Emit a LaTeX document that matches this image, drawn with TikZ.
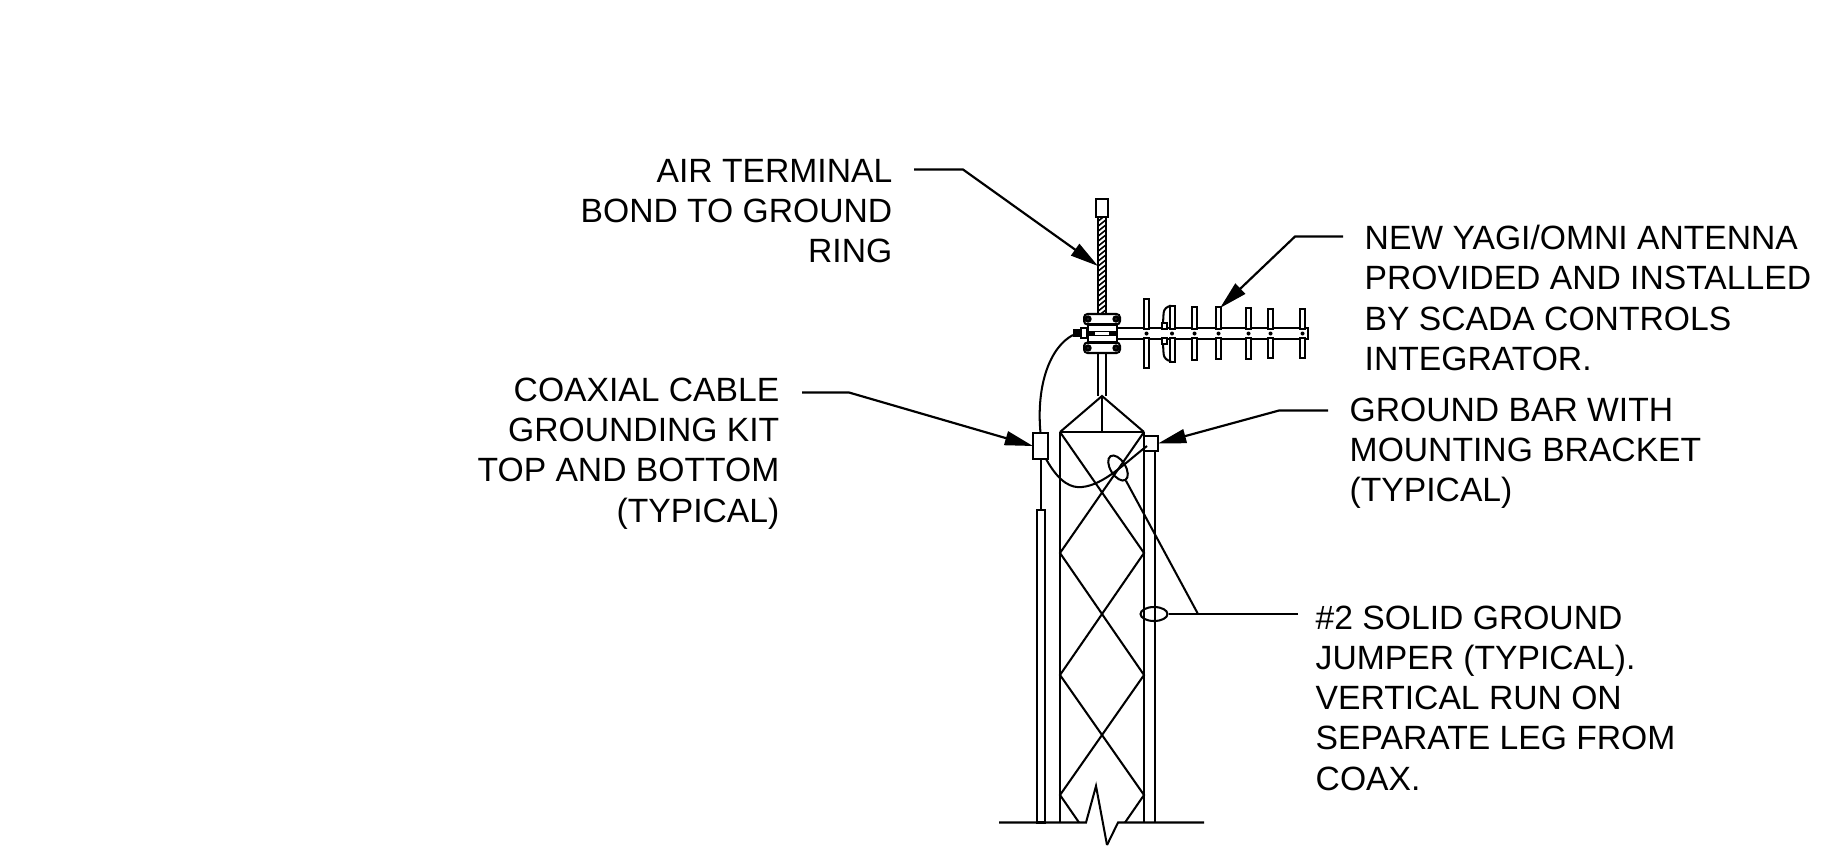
\documentclass[tikz,border=0pt]{standalone}
\usepackage{fontspec}
\setmainfont{Liberation Sans}
\usetikzlibrary{arrows.meta,shapes.geometric}
\tikzset{
  part/.style={line width=0.58pt},
  leader/.style={line width=0.62pt,-{Stealth[length=8pt,width=4pt,inset=0pt]}},
  callout/.style={font=\fontsize{9.57}{11.45}\selectfont,inner sep=0pt},
  groundbox/.style={draw,part,fill=white,inner sep=0pt,outer sep=0pt},
  jumperloop/.style={draw,part,ellipse,inner sep=0pt}
}
\newcommand{\yagielement}[4]{%
\draw[part,fill=white](#1,#2) rectangle (#1+5,329);
\draw[part,fill=white](#1,338) rectangle (#1+5,#3);
\fill(#1+2.5,333.5) circle (#4);
}
\begin{document}
\begin{tikzpicture}[x=0.01cm,y=-0.01cm]
\useasboundingbox (0,0) rectangle (1828,845);

% ground line and break
\draw[part](999,822.5)--(1086,822.5)--(1096,786)--(1107,845);
\draw[part](1107,845)--(1118,822.5)--(1204,822.5);

% tower legs
\draw[part](1060,432)--(1060,822.5);
\draw[part](1144,432)--(1144,822.5);
\draw[part](1155,451)--(1155,822.5);
\draw[part](1060,432)--(1144,432);
\draw[part](1060,432)--(1102,396)--(1144,432);
\draw[part](1102,396)--(1102,432);

% lattice
\draw[part](1060,432)--(1144,553)--(1060,675)--(1144,795)--(1125,822.5);
\draw[part](1144,432)--(1060,553)--(1144,675)--(1060,795)--(1079,822.5);

% mast
\draw[part](1098,353)--(1098,396);
\draw[part](1106,353)--(1106,396);

% air terminal
\begin{scope}
\clip(1098,217) rectangle (1106,314);
\foreach \h in {217,222,...,322}
  \draw[line width=0.45pt](1097,\h)--(1107,\h-8);
\end{scope}
\draw[part](1098,217)--(1098,314);
\draw[part](1106,217)--(1106,314);
\node[groundbox,minimum width=0.12cm,minimum height=0.18cm] (airtip) at (1102,208) {};

% boom
\draw[part,fill=white](1117,328) rectangle (1308,339);
\yagielement{1144}{299}{368}{2}
\yagielement{1169.5}{306}{362}{2}
\yagielement{1192}{307}{360}{2}
\yagielement{1216}{307}{359}{2}
\yagielement{1246}{308}{359}{2}
\yagielement{1268}{309}{358}{2}
\yagielement{1300}{309}{358}{2}

% driven element bracket
\draw[part,rounded corners=2pt](1169,306)--(1164,306)--(1163,323);
\draw[part,rounded corners=2pt](1169,361)--(1164,361)--(1163,344);
\draw[part,fill=white](1161.5,323) rectangle (1167,329);
\draw[part,fill=white](1161.5,338) rectangle (1167,344);

% mount
\draw[part,fill=white,rounded corners=1pt](1084,314) rectangle (1120,324.5);
\draw[part,fill=white,rounded corners=1pt](1084,342.5) rectangle (1120,353);
\draw[part,fill=white](1088,324.5) rectangle (1117,342.5);
\fill(1088,330.5) rectangle (1117,336);
\fill[white](1095,331.8) rectangle (1109,334.5);
\foreach \x in {1088,1116}
  \foreach \h in {319,348}
    \draw[line width=0.8pt,fill=black!60](\x,\h) circle (2.2);
\fill(1073,329) rectangle (1081,337);
\draw[part,fill=white](1081,328) rectangle (1087,338);

% ground hardware
\node[groundbox,minimum width=0.15cm,minimum height=0.26cm] (kit) at (1040.5,446) {};
\node[groundbox,minimum width=0.14cm,minimum height=0.15cm] (gbar) at (1151,443.5) {};
\coordinate (coaxend) at (1073,335);
\draw[part](1041,459)--(1041,510);
\draw[part,fill=white](1037,510) rectangle (1045,822.5);
\draw[part](coaxend) .. controls (1050,347) and (1036,385) .. (kit.north);
\coordinate (jumperend) at (1147,446);
\draw[part](1046,459) .. controls (1060,484) and (1072,488) .. (1082,487)
  .. controls (1104,485) and (1126,462) .. (jumperend);

% jumper loops
\node[jumperloop,minimum width=0.28cm,minimum height=0.15cm,rotate=-58] (looptop) at (1118,468) {};
\node[jumperloop,minimum width=0.27cm,minimum height=0.14cm] (looplow) at (1154,614) {};
\coordinate (jumperbend) at (1198,614);
\coordinate (jumperstart) at (1298,614);
\draw[part](jumperstart)--(looplow.east);
\draw[part](jumperbend)--(looptop.east);

% leaders
\coordinate (airstart) at (914,169.5);
\coordinate (airbend) at (963,169.5);
\coordinate (airarrow) at (1098,266);
\draw[leader](airstart)--(airbend)--(airarrow);
\coordinate (yagistart) at (1343,236.5);
\coordinate (yagibend) at (1295,236.5);
\coordinate (yagiarrow) at (1220,308);
\draw[leader](yagistart)--(yagibend)--(yagiarrow);
\coordinate (kitstart) at (802,392.5);
\coordinate (kitbend) at (849,392.5);
\draw[leader](kitstart)--(kitbend)--(kit.west);
\coordinate (gbarstart) at (1328,410.5);
\coordinate (gbarbend) at (1279,410.5);
\draw[leader](gbarstart)--(gbarbend)--(gbar.east);

% labels
\node[callout,anchor=east,align=right] (airlabel) at (893,211) {AIR TERMINAL\\BOND TO GROUND\\RING};
\node[callout,anchor=east,align=right] (kitlabel) at (780,453.5) {COAXIAL CABLE\\GROUNDING KIT\\TOP AND BOTTOM\\(TYPICAL)};
\node[callout,anchor=west,align=left] (yagilabel) at (1364,298) {NEW YAGI/OMNI ANTENNA\\PROVIDED AND INSTALLED\\BY SCADA CONTROLS\\INTEGRATOR.};
\node[callout,anchor=west,align=left] (gbarlabel) at (1349,453) {GROUND BAR WITH\\MOUNTING BRACKET\\(TYPICAL)};
\node[callout,anchor=west,align=left] (jumperlabel) at (1315,698) {\#2 SOLID GROUND\\JUMPER (TYPICAL).\\VERTICAL RUN ON\\SEPARATE LEG FROM\\COAX.};
\end{tikzpicture}
\end{document}
